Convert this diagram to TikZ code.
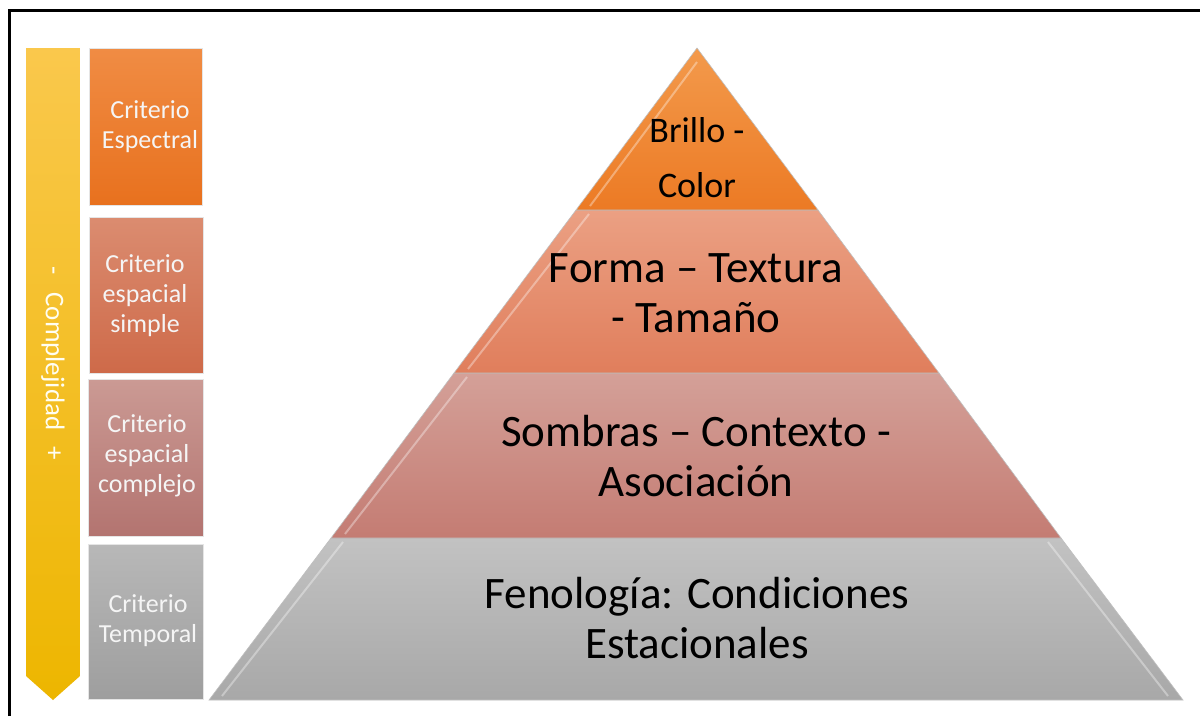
\documentclass[tikz,border=0pt]{standalone}
\usepackage{fontspec}
\setmainfont{Carlito}
\definecolor{orA}{HTML}{F39A4C}
\definecolor{orB}{HTML}{EC7A24}
\definecolor{saA}{HTML}{EBA083}
\definecolor{saB}{HTML}{E07E5C}
\definecolor{roA}{HTML}{D4A098}
\definecolor{roB}{HTML}{C47C73}
\definecolor{grA}{HTML}{C2C2C2}
\definecolor{grB}{HTML}{A8A8A8}
\definecolor{bx1A}{HTML}{F08C44}
\definecolor{bx1B}{HTML}{E8711E}
\definecolor{bx2A}{HTML}{DB8C70}
\definecolor{bx2B}{HTML}{CE6A49}
\definecolor{bx3A}{HTML}{CB9A94}
\definecolor{bx3B}{HTML}{B37470}
\definecolor{bx4A}{HTML}{B8B8B8}
\definecolor{bx4B}{HTML}{9E9E9E}
\definecolor{arA}{HTML}{FAC84C}
\definecolor{arB}{HTML}{EDB600}
\begin{document}
\begin{tikzpicture}[x=1pt,y=-1pt,
  lvl/.style={draw=black!25,line width=0.6pt},
  crit/.style={draw=white!90!black,line width=0.6pt},
  boxtxt/.style={text=white!96!black,align=center,font=\fontsize{26}{30}\selectfont},
  pyrtxt/.style={text=black,align=center,font=\fontsize{45}{50}\selectfont},
  hl/.style={draw=white,opacity=0.35,line width=2pt}]
\useasboundingbox (0,0) rectangle (1200,716);
\fill[white] (0,0) rectangle (1200,716);
% frame
\draw[line width=3.6pt] (9.5,716) -- (9.5,10.5) -- (1200,10.5);

% pyramid levels
\coordinate (apex) at (697,48);
\coordinate (l1) at (576,210);   \coordinate (r1) at (818,210);
\coordinate (l2) at (454,373);   \coordinate (r2) at (939,373);
\coordinate (l3) at (331,538);   \coordinate (r3) at (1061,538);
\coordinate (l4) at (209,700);   \coordinate (r4) at (1183,700);

\shade[lvl,top color=grA,bottom color=grB] (l3) -- (r3) -- (r4) -- (l4) -- cycle;
\shade[lvl,top color=roA,bottom color=roB] (l2) -- (r2) -- (r3) -- (l3) -- cycle;
\shade[lvl,top color=saA,bottom color=saB] (l1) -- (r1) -- (r2) -- (l2) -- cycle;
\shade[lvl,top color=orA,bottom color=orB] (apex) -- (r1) -- (l1) -- cycle;

% bevel highlights
\draw[hl] (697,62) -- (590,206);
\draw[hl] (467,377) -- (345,534);
\draw[hl] (222,696) -- (343,542);
\draw[hl] (1048,542) -- (1168,696);
\draw[hl] (589,214) -- (468,369);

% pyramid texts
\node[text=black,align=center,font=\fontsize{36}{55}\selectfont] (t1) at (697,158) {Brillo -\\Color};
\node[pyrtxt] (t2) at (696,293) {Forma – Textura\\- Tamaño};
\node[pyrtxt] (t3) at (696,456) {Sombras – Contexto -\\Asociación};
\node[pyrtxt] (t4) at (697,618) {Fenología: Condiciones\\Estacionales};

% complexity arrow
\shade[top color=arA,bottom color=arB] (26,48) -- (80,48) -- (80,676) -- (53,700) -- (26,676) -- cycle;
\node[rotate=-90,text=white!95!yellow,font=\fontsize{27}{30}\selectfont] (arr) at (53,363) {-\hspace{18pt}Complejidad\hspace{16pt}+};

% criteria boxes
\shade[crit,top color=bx1A,bottom color=bx1B] (89,48) rectangle (202,205);
\shade[crit,top color=bx2A,bottom color=bx2B] (89,217) rectangle (203,373);
\shade[crit,top color=bx3A,bottom color=bx3B] (88,379) rectangle (203,536);
\shade[crit,top color=bx4A,bottom color=bx4B] (88,544) rectangle (203,699);

\node[boxtxt] (c1) at (150,127) {Criterio\\Espectral};
\node[boxtxt] (c2) at (145,296) {Criterio\\espacial\\simple};
\node[boxtxt] (c3) at (147,456) {Criterio\\espacial\\complejo};
\node[boxtxt] (c4) at (148,621) {Criterio\\Temporal};
\end{tikzpicture}
\end{document}
